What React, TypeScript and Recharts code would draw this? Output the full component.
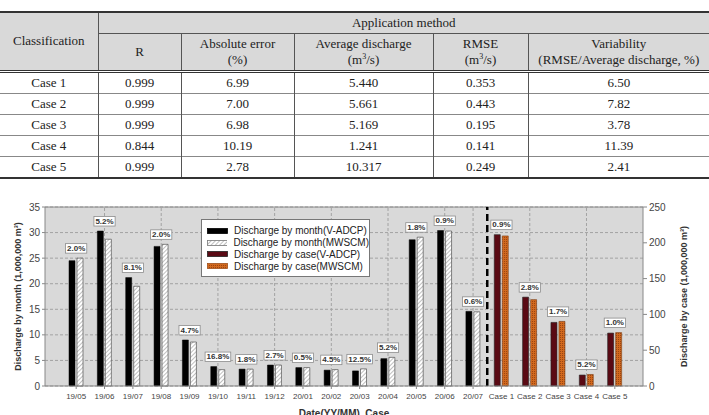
import React from 'react';
import {
  ComposedChart,
  Bar,
  Line,
  XAxis,
  YAxis,
  CartesianGrid,
  ReferenceLine,
  LabelList,
  Legend,
} from 'recharts';

// ---- table values ----
const tableCases = ['Case 1', 'Case 2', 'Case 3', 'Case 4', 'Case 5'];
const rValues = ['0.999', '0.999', '0.999', '0.844', '0.999'];
const absError = ['6.99', '7.00', '6.98', '10.19', '2.78'];
const avgDischarge = ['5.440', '5.661', '5.169', '1.241', '10.317'];
const rmseValues = ['0.353', '0.443', '0.195', '0.141', '0.249'];
const variability = ['6.50', '7.82', '3.78', '11.39', '2.41'];

// ---- chart values ----
const months = ['19/05', '19/06', '19/07', '19/08', '19/09', '19/10', '19/11', '19/12', '20/01', '20/02', '20/03', '20/04', '20/05', '20/06', '20/07'];
const monthVadcp = [24.5, 30.3, 21.2, 27.3, 9.0, 3.8, 3.3, 4.1, 3.6, 3.1, 2.95, 5.35, 28.6, 30.4, 14.6];
const monthMwscm = [25.0, 28.7, 19.5, 27.7, 8.6, 3.2, 3.3, 4.1, 3.6, 3.2, 3.35, 5.6, 29.1, 30.3, 14.5];
const monthErr = ['2.0%', '5.2%', '8.1%', '2.0%', '4.7%', '16.8%', '1.8%', '2.7%', '0.5%', '4.5%', '12.5%', '5.2%', '1.8%', '0.9%', '0.6%'];

const cases = ['Case 1', 'Case 2', 'Case 3', 'Case 4', 'Case 5'];
const caseVadcp = [211.4, 124.1, 88.8, 15.3, 73.9];
const caseMwscm = [209.6, 120.6, 90.2, 16.1, 74.6];
const caseErr = ['0.9%', '2.8%', '1.7%', '5.2%', '1.0%'];

const leftTicks = [0, 5, 10, 15, 20, 25, 30, 35];
const rightTicks = [0, 50, 100, 150, 200, 250];
const gridCats = ['19/06', '19/08', '19/10', '19/12', '20/02', '20/04', '20/06', '20/07', 'Case 2', 'Case 4'];

const chartData = [
  ...months.map((m, i) => ({
    name: m,
    mV: monthVadcp[i],
    mM: monthMwscm[i],
    mTop: Math.max(monthVadcp[i], monthMwscm[i]),
    mErr: monthErr[i],
  })),
  ...cases.map((c, i) => ({
    name: c,
    cV: caseVadcp[i],
    cM: caseMwscm[i],
    cTop: Math.max(caseVadcp[i], caseMwscm[i]),
    cErr: caseErr[i],
  })),
];

const SANS = '"Liberation Sans", Arial, sans-serif';
const SERIF = '"Liberation Serif", "Times New Roman", serif';

const legendItems = [
  { label: 'Discharge by month(V-ADCP)', fill: '#000', stroke: '#000' },
  { label: 'Discharge by month(MWSCM)', fill: 'url(#hatch)', stroke: '#777' },
  { label: 'Discharge by case(V-ADCP)', fill: '#5a0a14', stroke: '#222' },
  { label: 'Discharge by case(MWSCM)', fill: 'url(#dots)', stroke: '#a0521c' },
];

const PctLabel = (props: any) => {
  const { x, y, value } = props;
  if (value == null || y == null || isNaN(y)) return null;
  const text = String(value);
  let w = 3;
  for (const ch of text) w += ch === '.' ? 2.2 : ch === '%' ? 7.1 : 4.45;
  const h = 9.5;
  const top = y - 5 - h;
  return (
    <g>
      <rect x={x - w / 2} y={top} width={w} height={h} fill="#fff" stroke="#8c8c8c" strokeWidth={0.8} />
      <text x={x} y={top + h - 2.2} textAnchor="middle" fontSize={8} fontWeight={700} fill="#333" fontFamily={SANS}>
        {text}
      </text>
    </g>
  );
};

const renderLegend = () => (
  <div
    style={{
      width: 169,
      height: 58,
      border: '1px solid #777',
      background: '#fff',
      fontFamily: SANS,
      fontSize: 10,
      color: '#222',
      paddingTop: 5,
      boxSizing: 'border-box',
    }}
  >
    {legendItems.map((it) => (
      <div key={it.label} style={{ display: 'flex', alignItems: 'center', height: 11.8, whiteSpace: 'nowrap' }}>
        <svg width={21} height={6} style={{ marginLeft: 5, marginRight: 6 }}>
          <rect x={0.5} y={0.5} width={20} height={5} fill={it.fill} stroke={it.stroke} strokeWidth={0.8} />
        </svg>
        <span>{it.label}</span>
      </div>
    ))}
  </div>
);

const LeftTitle = (props: any) => {
  const { viewBox } = props;
  const cx = viewBox.x + 18;
  const cy = viewBox.y + viewBox.height / 2;
  return (
    <text x={cx} y={cy} transform={`rotate(-90 ${cx} ${cy})`} textAnchor="middle" dominantBaseline="central" fontSize={9} fontWeight={700} fill="#333" fontFamily={SANS}>
      Discharge by month (1,000,000 m³)
    </text>
  );
};

const RightTitle = (props: any) => {
  const { viewBox } = props;
  const cx = viewBox.x + 41;
  const cy = viewBox.y + viewBox.height / 2;
  return (
    <text x={cx} y={cy} transform={`rotate(-90 ${cx} ${cy})`} textAnchor="middle" dominantBaseline="central" fontSize={9} fontWeight={700} fill="#333" fontFamily={SANS}>
      Discharge by case (1,000,000 m³)
    </text>
  );
};

const BottomTitle = (props: any) => {
  const { viewBox } = props;
  return (
    <text x={viewBox.x + viewBox.width / 2} y={viewBox.y + 31} textAnchor="middle" fontSize={10} fontWeight={700} fill="#333" fontFamily={SANS}>
      Date(YY/MM), Case
    </text>
  );
};

const DischargeChart = () => (
  <ComposedChart width={709} height={220} data={chartData} margin={{ top: 12, right: 0, bottom: 0, left: 0 }} barGap={2}>
    <defs>
      <pattern id="hatch" patternUnits="userSpaceOnUse" width={3} height={3} patternTransform="rotate(45)">
        <rect width={3} height={3} fill="#fff" />
        <line x1={0} y1={0} x2={0} y2={3} stroke="#8a8a8a" strokeWidth={1.1} />
      </pattern>
      <pattern id="dots" patternUnits="userSpaceOnUse" width={2} height={2}>
        <rect width={2} height={2} fill="#d2691e" />
        <rect width={1} height={1} fill="#9a4512" />
      </pattern>
    </defs>
    <CartesianGrid xAxisId="m" yAxisId="left" vertical={false} fill="#d9d9d9" stroke="#a3a3a3" strokeDasharray="3 2" />
    <XAxis
      xAxisId="m"
      dataKey="name"
      interval={0}
      height={29}
      padding={{ left: 17, right: 14 }}
      tick={{ fontSize: 8, fill: '#444', fontFamily: SANS }}
      tickSize={3}
      tickMargin={4}
      axisLine={{ stroke: '#888' }}
      tickLine={{ stroke: '#888' }}
      label={<BottomTitle />}
    />
    <XAxis
      xAxisId="c"
      dataKey="name"
      height={0}
      tick={false}
      axisLine={false}
      tickLine={false}
      padding={{ left: 17, right: 14 }}
    />
    <YAxis
      yAxisId="left"
      domain={[0, 35]}
      ticks={leftTicks}
      width={45}
      tickSize={3}
      tick={{ fontSize: 10, fill: '#444', fontFamily: SANS }}
      axisLine={{ stroke: '#888' }}
      tickLine={{ stroke: '#888' }}
      label={<LeftTitle />}
    />
    <YAxis
      yAxisId="right"
      orientation="right"
      domain={[0, 250]}
      ticks={rightTicks}
      width={66}
      tickSize={4}
      tick={{ fontSize: 10, fill: '#444', fontFamily: SANS }}
      axisLine={{ stroke: '#888' }}
      tickLine={{ stroke: '#888' }}
      label={<RightTitle />}
    />
    <ReferenceLine xAxisId="m" yAxisId="left" y={35} stroke="#888" />
    {gridCats.map((c) => (
      <ReferenceLine key={c} xAxisId="m" yAxisId="left" x={c} stroke="#a3a3a3" strokeDasharray="3 2" />
    ))}
    <Bar xAxisId="m" yAxisId="left" dataKey="mV" barSize={6} fill="#000" stroke="#000" strokeWidth={0.5} isAnimationActive={false} />
    <Bar xAxisId="m" yAxisId="left" dataKey="mM" barSize={6} fill="url(#hatch)" stroke="#555" strokeWidth={0.7} isAnimationActive={false} />
    <Bar xAxisId="c" yAxisId="right" dataKey="cV" barSize={6} fill="#5a0a14" stroke="#222" strokeWidth={0.6} isAnimationActive={false} />
    <Bar xAxisId="c" yAxisId="right" dataKey="cM" barSize={6} fill="url(#dots)" stroke="#7a3a10" strokeWidth={0.6} isAnimationActive={false} />
    <ReferenceLine xAxisId="m" yAxisId="left" x="20/07" position="end" stroke="#000" strokeWidth={2.5} strokeDasharray="7 4" />
    <Line xAxisId="m" yAxisId="left" dataKey="mTop" stroke="none" dot={false} activeDot={false} isAnimationActive={false} legendType="none">
      <LabelList dataKey="mErr" content={<PctLabel />} />
    </Line>
    <Line xAxisId="c" yAxisId="right" dataKey="cTop" stroke="none" dot={false} activeDot={false} isAnimationActive={false} legendType="none">
      <LabelList dataKey="cErr" content={<PctLabel />} />
    </Line>
    <Legend
      content={renderLegend}
      layout="horizontal"
      verticalAlign="middle"
      align="center"
      wrapperStyle={{ left: 201, top: 24, width: 169, height: 58 }}
    />
  </ComposedChart>
);

const th: React.CSSProperties = {
  background: '#d9d9d9',
  fontWeight: 400,
  padding: 0,
  textAlign: 'center',
  verticalAlign: 'middle',
  borderLeft: '1px solid #555',
  lineHeight: '16px',
};

const td: React.CSSProperties = {
  padding: 0,
  height: 20,
  textAlign: 'center',
  verticalAlign: 'middle',
  borderLeft: '1px solid #555',
  borderTop: '1px solid #888',
};

const sup: React.CSSProperties = { fontSize: 8, verticalAlign: 'super', lineHeight: 0 };

const ResultsTable = () => (
  <table
    style={{
      position: 'absolute',
      left: 0,
      top: 11,
      width: 709,
      borderCollapse: 'collapse',
      tableLayout: 'fixed',
      fontFamily: SERIF,
      fontSize: 13,
      color: '#222',
      borderTop: '2px solid #333',
      borderBottom: '2px solid #333',
    }}
  >
    <colgroup>
      <col style={{ width: 98 }} />
      <col style={{ width: 83 }} />
      <col style={{ width: 113 }} />
      <col style={{ width: 139 }} />
      <col style={{ width: 95 }} />
      <col style={{ width: 181 }} />
    </colgroup>
    <thead>
      <tr style={{ height: 21 }}>
        <th rowSpan={2} style={{ ...th, borderLeft: 'none', borderBottom: '3px double #333' }}>Classification</th>
        <th colSpan={5} style={{ ...th, borderBottom: '1px solid #555' }}>Application method</th>
      </tr>
      <tr style={{ height: 38, borderBottom: '3px double #333' }}>
        <th style={th}>R</th>
        <th style={th}>Absolute error<br />(%)</th>
        <th style={th}>Average discharge<br />(m<span style={sup}>3</span>/s)</th>
        <th style={th}>RMSE<br />(m<span style={sup}>3</span>/s)</th>
        <th style={th}>Variability<br />(RMSE/Average discharge, %)</th>
      </tr>
    </thead>
    <tbody>
      {tableCases.map((c, i) => (
        <tr key={c}>
          <td style={{ ...td, borderLeft: 'none' }}>{c}</td>
          <td style={td}>{rValues[i]}</td>
          <td style={td}>{absError[i]}</td>
          <td style={td}>{avgDischarge[i]}</td>
          <td style={td}>{rmseValues[i]}</td>
          <td style={td}>{variability[i]}</td>
        </tr>
      ))}
    </tbody>
  </table>
);

export default function App() {
  return (
    <div style={{ position: 'absolute', left: 0, top: 0, width: 709, height: 415, background: '#fff', overflow: 'hidden' }}>
      <ResultsTable />
      <div style={{ position: 'absolute', left: 0, top: 195 }}>
        <DischargeChart />
      </div>
    </div>
  );
}
